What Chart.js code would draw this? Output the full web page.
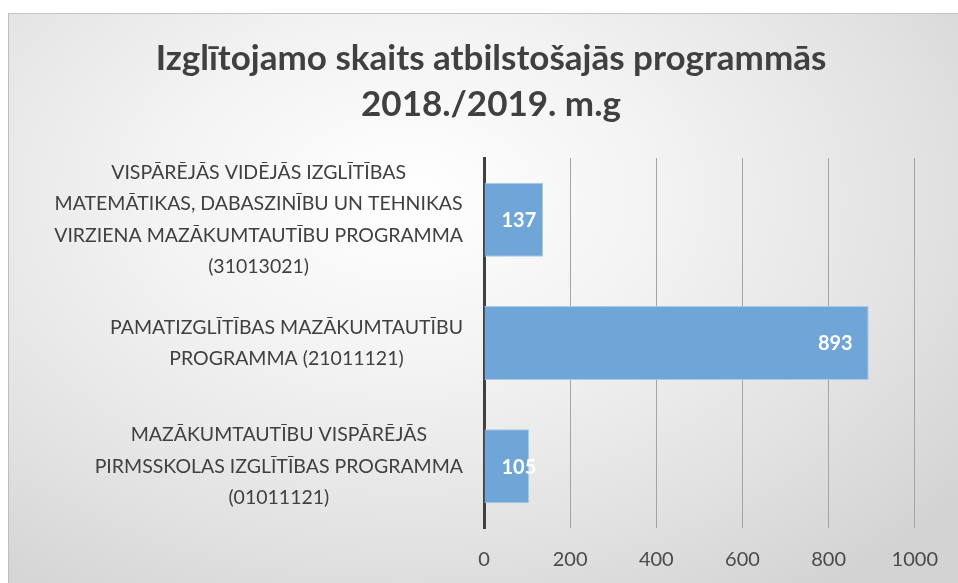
<!DOCTYPE html>
<html lang="lv">
<head>
    <meta charset="UTF-8">
    <title>Izglītojamo skaits</title>
    <script src="https://cdn.jsdelivr.net/npm/chart.js"></script>
    <style>
        html, body {
            margin: 0;
            padding: 0;
            background: #ffffff;
        }
        .frame {
            position: absolute;
            left: 8px;
            top: 13px;
            width: 950px;
            height: 570px;
            border-top: 1px solid #c4c4c4;
            border-left: 1px solid #bdbdbd;
            box-sizing: border-box;
            background: radial-gradient(ellipse 75% 85% at 42% 32%, #ffffff 0%, #f3f3f3 35%, #e3e3e3 70%, #d3d3d3 100%);
        }
        .frame canvas {
            display: block;
        }
    </style>
</head>
<body>
    <div class="frame">
        <canvas id="myChart" width="949" height="569"></canvas>
    </div>
    <script>
        // Kategorijas (no augšas uz leju), katra sadalīta rindās
        var categories = [
            ['VISPĀRĒJĀS VIDĒJĀS IZGLĪTĪBAS', 'MATEMĀTIKAS, DABASZINĪBU UN TEHNIKAS', 'VIRZIENA MAZĀKUMTAUTĪBU PROGRAMMA', '(31013021)'],
            ['PAMATIZGLĪTĪBAS MAZĀKUMTAUTĪBU', 'PROGRAMMA (21011121)'],
            ['MAZĀKUMTAUTĪBU VISPĀRĒJĀS', 'PIRMSSKOLAS IZGLĪTĪBAS PROGRAMMA', '(01011121)']
        ];
        var values = [137, 893, 105];
        var xTicks = [0, 200, 400, 600, 800, 1000];
        var titleLines = ['Izglītojamo skaits atbilstošajās programmās', '2018./2019. m.g'];

        var textColor = '#404040';

        // Virsraksts (divas rindas), centrēts pēc visa attēla
        var chartTitle = {
            id: 'chartTitle',
            afterDraw: function(chart) {
                var ctx = chart.ctx;
                ctx.save();
                ctx.font = 'bold 35px Lato';
                ctx.fillStyle = textColor;
                ctx.textAlign = 'center';
                ctx.textBaseline = 'middle';
                titleLines.forEach(function(t, i) {
                    ctx.fillText(t, 482, 45 + i * 46);
                });
                ctx.restore();
            }
        };

        // Kategoriju nosaukumi: katrs bloks centrēts, bloka labā mala pie ass
        var categoryLabels = {
            id: 'categoryLabels',
            afterDraw: function(chart) {
                var ctx = chart.ctx;
                var yScale = chart.scales.y;
                var rightEdge = 454;
                var lineH = 31.5;
                ctx.save();
                ctx.font = '19.5px Lato';
                ctx.fillStyle = textColor;
                ctx.textAlign = 'center';
                ctx.textBaseline = 'middle';
                categories.forEach(function(lines, i) {
                    var y = yScale.getPixelForValue(i);
                    var maxW = 0;
                    lines.forEach(function(l) { maxW = Math.max(maxW, ctx.measureText(l).width); });
                    var cx = rightEdge - maxW / 2;
                    lines.forEach(function(l, j) {
                        ctx.fillText(l, cx, y + (j - (lines.length - 1) / 2) * lineH);
                    });
                });
                ctx.restore();
            }
        };

        // Vērtību etiķetes joslu iekšpusē pie beigām
        var valueLabels = {
            id: 'valueLabels',
            afterDatasetsDraw: function(chart) {
                var ctx = chart.ctx;
                var meta = chart.getDatasetMeta(0);
                ctx.save();
                ctx.font = 'bold 20px Lato';
                ctx.fillStyle = '#ffffff';
                ctx.textAlign = 'left';
                ctx.textBaseline = 'middle';
                meta.data.forEach(function(bar, i) {
                    var txt = String(values[i]);
                    var w = ctx.measureText(txt).width;
                    var x = Math.max(bar.x - 16 - w, bar.base + 17);
                    ctx.fillText(txt, x, bar.y + 1);
                });
                ctx.restore();
            }
        };

        var ctx = document.getElementById('myChart').getContext('2d');
        var myChart = new Chart(ctx, {
            type: 'bar',
            data: {
                labels: categories,
                datasets: [{
                    data: values,
                    backgroundColor: '#6fa5d7',
                    borderColor: '#a9cbea',
                    borderWidth: 1,
                    borderSkipped: 'start',
                    barPercentage: 0.6,
                    categoryPercentage: 1
                }]
            },
            options: {
                indexAxis: 'y',
                responsive: false,
                animation: false,
                layout: {
                    padding: { left: 0, right: 42, top: 144, bottom: 0 }
                },
                plugins: {
                    legend: { display: false },
                    tooltip: { enabled: false },
                    title: { display: false }
                },
                scales: {
                    x: {
                        min: 0,
                        max: 1000,
                        afterBuildTicks: function(scale) {
                            scale.ticks = xTicks.map(function(v) { return { value: v }; });
                        },
                        grid: {
                            color: '#a4a4a4',
                            lineWidth: 1,
                            drawTicks: false
                        },
                        border: { display: false },
                        ticks: {
                            color: '#4a4a4a',
                            font: { family: 'Lato', size: 20 },
                            padding: 20,
                            callback: function(v) { return String(v); }
                        },
                        afterFit: function(scale) { scale.height = 55; }
                    },
                    y: {
                        grid: { display: false },
                        border: { color: '#404040', width: 3 },
                        ticks: { display: false },
                        afterFit: function(scale) { scale.width = 475; }
                    }
                }
            },
            plugins: [chartTitle, categoryLabels, valueLabels]
        });
    </script>
</body>
</html>
